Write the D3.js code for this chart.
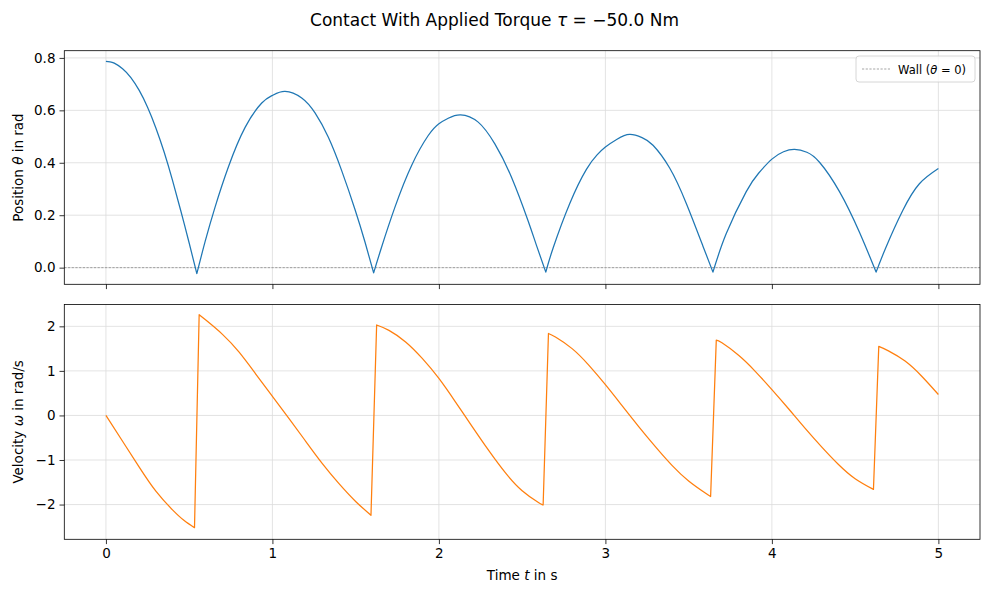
<!DOCTYPE html>
<html>
<head>
<meta charset="utf-8">
<script src="https://d3js.org/d3.v7.min.js"></script>
<style>
  body { margin: 0; background: #fff; }
  text { font-family: "DejaVu Sans", sans-serif; fill: #000; }
</style>
</head>
<body>
<div id="chart"></div>
<script>
// contact instants (wall hits)
var impactTimes = [0.546, 1.608, 2.642, 3.646, 4.626];

// position theta(t)
var thetaTime = [0, 0.025, 0.05, 0.1, 0.15, 0.2, 0.25, 0.3, 0.35, 0.4, 0.45, 0.5, 0.546,
  0.596, 0.656, 0.736, 0.836, 0.936, 1.0, 1.076, 1.176, 1.256, 1.336, 1.416, 1.496, 1.556, 1.608,
  1.656, 1.736, 1.836, 1.936, 2.0, 2.056, 2.13, 2.236, 2.336, 2.436, 2.536, 2.586, 2.642,
  2.686, 2.786, 2.886, 2.95, 3.0, 3.07, 3.146, 3.22, 3.286, 3.386, 3.486, 3.586, 3.646,
  3.726, 3.846, 3.92, 4.0, 4.07, 4.136, 4.21, 4.286, 4.406, 4.526, 4.626,
  4.686, 4.786, 4.886, 5.0];
var theta = [0.787, 0.785, 0.780, 0.759, 0.725, 0.676, 0.612, 0.533, 0.44, 0.333, 0.216, 0.094, -0.023,
  0.1, 0.232, 0.385, 0.535, 0.628, 0.657, 0.672, 0.647, 0.59, 0.497, 0.37, 0.222, 0.098, -0.02,
  0.079, 0.231, 0.39, 0.504, 0.549, 0.57, 0.583, 0.555, 0.472, 0.345, 0.178, 0.085, -0.017,
  0.075, 0.245, 0.375, 0.43, 0.46, 0.49, 0.508, 0.496, 0.467, 0.38, 0.245, 0.082, -0.017,
  0.13, 0.29, 0.36, 0.414, 0.442, 0.451, 0.44, 0.402, 0.29, 0.135, -0.017,
  0.079, 0.218, 0.32, 0.378];

// velocity omega(t)
var omegaTime = [0, 0.1, 0.2, 0.3, 0.4, 0.47, 0.532,
  0.56, 0.6, 0.7, 0.8, 0.9, 1.0, 1.1, 1.2, 1.3, 1.4, 1.5, 1.592,
  1.626, 1.7, 1.8, 1.9, 2.0, 2.1, 2.2, 2.3, 2.4, 2.5, 2.6, 2.626,
  2.658, 2.7, 2.8, 2.9, 3.0, 3.1, 3.2, 3.3, 3.4, 3.5, 3.6, 3.632,
  3.666, 3.7, 3.8, 3.9, 4.0, 4.1, 4.2, 4.3, 4.4, 4.5, 4.61,
  4.642, 4.7, 4.8, 4.9, 5.0];
var omega = [0, -0.58, -1.16, -1.7, -2.12, -2.36, -2.52,
  2.26, 2.14, 1.82, 1.42, 0.93, 0.43, -0.07, -0.58, -1.08, -1.53, -1.93, -2.24,
  2.03, 1.91, 1.65, 1.28, 0.83, 0.30, -0.25, -0.79, -1.29, -1.69, -1.96, -2.01,
  1.84, 1.76, 1.50, 1.13, 0.69, 0.22, -0.25, -0.70, -1.12, -1.47, -1.74, -1.82,
  1.69, 1.63, 1.35, 0.99, 0.58, 0.15, -0.29, -0.71, -1.10, -1.42, -1.66,
  1.55, 1.45, 1.22, 0.88, 0.47];

var xTicks = [0, 1, 2, 3, 4, 5];
var thetaTicks = [0, 0.2, 0.4, 0.6, 0.8];
var omegaTicks = [-2, -1, 0, 1, 2];

var W = 989, H = 593;
var left = 64.3, right = 980;
var svg = d3.select("#chart").append("svg").attr("width", W).attr("height", H);

var x = d3.scaleLinear().domain([-0.25, 5.25]).range([left, right]);

// split a series into swings between impacts
function swings(ts, vs) {
  var bounds = [-Infinity].concat(impactTimes, [Infinity]);
  var out = [];
  for (var k = 0; k < bounds.length - 1; k++) {
    var seg = [];
    ts.forEach(function (t, i) {
      if (t >= bounds[k] && t <= bounds[k + 1]) seg.push([t, vs[i]]);
    });
    if (seg.length) out.push(seg);
  }
  return out;
}

function panel(y0, y1, yDomain, yTicks, yFmt, label, showX) {
  var y = d3.scaleLinear().domain(yDomain).range([y1, y0]);
  var g = svg.append("g");
  // grid
  g.selectAll(".gx").data(xTicks).enter().append("line")
    .attr("x1", function (d) { return x(d); }).attr("x2", function (d) { return x(d); })
    .attr("y1", y0).attr("y2", y1)
    .attr("stroke", "#dcdcdc").attr("stroke-width", 0.8);
  g.selectAll(".gy").data(yTicks).enter().append("line")
    .attr("x1", left).attr("x2", right)
    .attr("y1", function (d) { return y(d); }).attr("y2", function (d) { return y(d); })
    .attr("stroke", "#dcdcdc").attr("stroke-width", 0.8);

  var xa = g.append("g").attr("transform", "translate(0," + y1 + ")")
    .call(d3.axisBottom(x).tickValues(xTicks).tickSize(4.8).tickPadding(4)
      .tickFormat(showX ? d3.format("d") : ""));
  var ya = g.append("g").attr("transform", "translate(" + left + ",0)")
    .call(d3.axisLeft(y).tickValues(yTicks).tickSize(4.8).tickPadding(4).tickFormat(yFmt));
  [xa, ya].forEach(function (a) {
    a.select(".domain").remove();
    a.selectAll("line").attr("stroke", "#000").attr("stroke-width", 0.8);
    a.selectAll("text").attr("font-size", "13.5px").attr("font-family", "DejaVu Sans");
  });

  var lab = g.append("text").attr("transform", "translate(23," + ((y0 + y1) / 2) + ") rotate(-90)")
    .attr("text-anchor", "middle").attr("font-size", "13.5px");
  lab.append("tspan").text(label[0] + " ");
  lab.append("tspan").attr("font-style", "italic").text(label[1]);
  lab.append("tspan").text(" " + label[2]);
  return { g: g, y: y, y0: y0, y1: y1 };
}

function frame(p) {
  p.g.append("rect").attr("x", left).attr("y", p.y0)
    .attr("width", right - left).attr("height", p.y1 - p.y0)
    .attr("fill", "none").attr("stroke", "#000").attr("stroke-width", 0.8);
}

function drawSeries(p, ts, vs, color) {
  var line = d3.line().x(function (d) { return x(d[0]); }).y(function (d) { return p.y(d[1]); })
    .curve(d3.curveNatural);
  var d = swings(ts, vs).map(function (s, i) {
    var s2 = line(s);
    return i ? s2.replace(/^M/, "L") : s2;
  }).join("");
  p.g.append("path").attr("d", d).attr("fill", "none")
    .attr("stroke", color).attr("stroke-width", 1.25).attr("stroke-linejoin", "round");
}

var pTop = panel(50.7, 284.3, [-0.0635, 0.8275], thetaTicks, function (v) { return d3.format(".1f")(v); },
  ["Position", "\u03b8", "in rad"], false);
var pBot = panel(304.5, 539.3, [-2.78, 2.49], omegaTicks, function (v) { return String(v).replace("-", "\u2212"); },
  ["Velocity", "\u03c9", "in rad/s"], true);

// wall line
pTop.g.append("line").attr("x1", left).attr("x2", right)
  .attr("y1", pTop.y(0)).attr("y2", pTop.y(0))
  .attr("stroke", "#808080").attr("stroke-width", 0.7).attr("stroke-dasharray", "2.2,1.5");

drawSeries(pTop, thetaTime, theta, "#1f77b4");
drawSeries(pBot, omegaTime, omega, "#ff7f0e");
frame(pTop);
frame(pBot);

// legend
var lg = pTop.g.append("g").attr("transform", "translate(856,56)");
lg.append("rect").attr("width", 119).attr("height", 26).attr("rx", 3)
  .attr("fill", "#fff").attr("fill-opacity", 0.8).attr("stroke", "#cccccc").attr("stroke-width", 0.8);
lg.append("line").attr("x1", 6).attr("x2", 34).attr("y1", 13).attr("y2", 13)
  .attr("stroke", "#808080").attr("stroke-width", 0.7).attr("stroke-dasharray", "2.2,1.5");
var lt = lg.append("text").attr("x", 42).attr("y", 17.5).attr("font-size", "11.5px");
lt.append("tspan").text("Wall (");
lt.append("tspan").attr("font-style", "italic").text("\u03b8");
lt.append("tspan").text(" = 0)");

// x label
var xl = svg.append("text").attr("x", x(2.5)).attr("y", 580).attr("text-anchor", "middle").attr("font-size", "13.5px");
xl.append("tspan").text("Time ");
xl.append("tspan").attr("font-style", "italic").text("t");
xl.append("tspan").text(" in s");

// title
var tt = svg.append("text").attr("x", W / 2).attr("y", 26).attr("text-anchor", "middle").attr("font-size", "17px");
tt.append("tspan").text("Contact With Applied Torque ");
tt.append("tspan").attr("font-style", "italic").text("\u03c4");
tt.append("tspan").text(" = \u221250.0 Nm");
</script>
</body>
</html>
